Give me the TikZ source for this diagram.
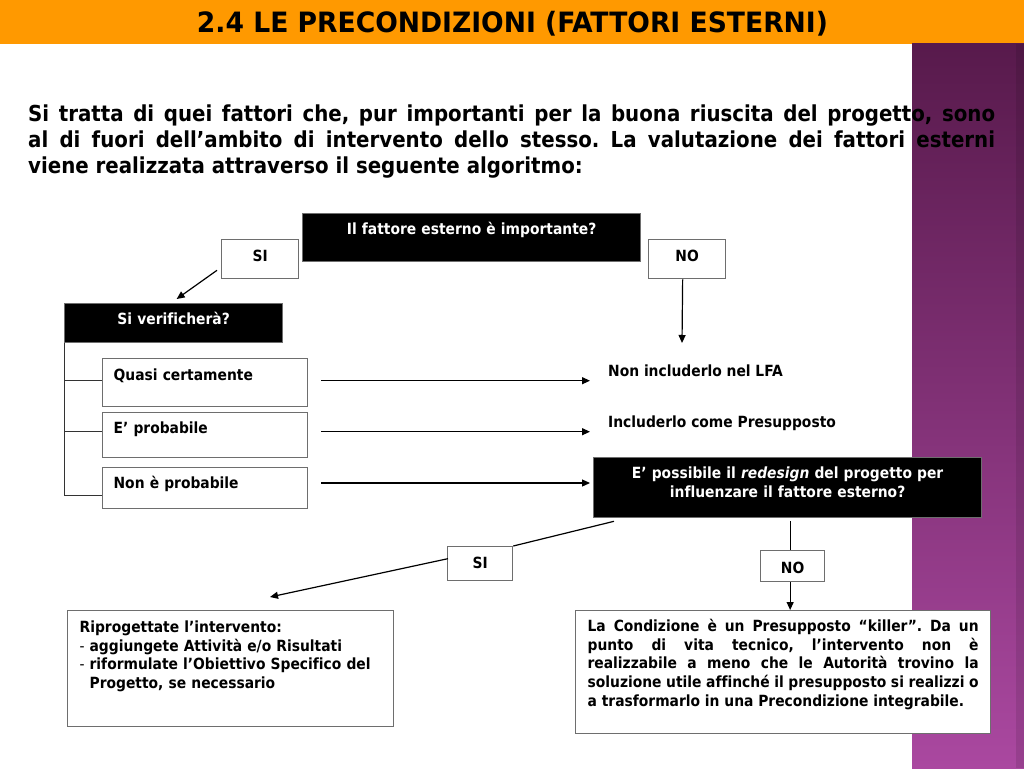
\documentclass[tikz,border=0pt]{standalone}
\usepackage{fontspec}
\usepackage{graphicx}
\IfFontExistsTF{DejaVu Sans Condensed}{\setmainfont{DejaVu Sans Condensed}[Ligatures=NoCommon]}{\setmainfont{DejaVu Sans}[FakeStretch=0.9,Ligatures=NoCommon]}
\usetikzlibrary{arrows.meta,calc}
\definecolor{hdr}{RGB}{255,153,0}
\definecolor{purpTop}{RGB}{88,26,76}
\definecolor{purpBot}{RGB}{170,72,160}
\definecolor{bord}{RGB}{110,110,110}
\newcommand\bodyfs{\fontsize{22}{26}\selectfont}
\newcommand\boxfs{\fontsize{15.4}{18.7}\selectfont}
\frenchspacing
\begin{document}
\begin{tikzpicture}[x=1pt,y=-1pt,
  every node/.style={font=\bfseries\boxfs, inner sep=0pt},
  fbox/.style={draw=bord, line width=1.3pt, anchor=north west, fill=white},
  bbox/.style={fbox, fill=black, text=white},
  conn/.style={line width=1.2pt, draw=black},
  arr/.style={conn, -{Triangle[length=8pt,width=7pt]}},
]
\useasboundingbox (0,0) rectangle (1024,768);
\fill[white] (0,0) rectangle (1024,768);
\fill[hdr] (0,0) rectangle (1024,44);
\shade[top color=purpTop, bottom color=purpBot] (912,44) rectangle (1024,768);
\fill[black, opacity=0.1] (1016,44) rectangle (1024,768);

\node[anchor=base, font=\bfseries\fontsize{28}{30}\selectfont] (title) at (512.5,33)
  {\resizebox{631pt}{\height}{2.4 LE PRECONDIZIONI (FATTORI ESTERNI)}};

\node[anchor=base west, text width=967pt, align=justify, font=\bfseries\bodyfs] (intro) at (28,121)
  {Si tratta di quei fattori che, pur importanti per la buona riuscita del progetto, sono\linebreak
   al di fuori dell’ambito di intervento dello stesso. La valutazione dei fattori esterni\linebreak
   viene realizzata attraverso il seguente algoritmo:};

\node[bbox, text width=338pt, align=center, text height=20.5pt, text depth=27.5pt] (imp) at (302,213) {Il fattore esterno è importante?};
\node[fbox, text width=77pt, align=center, text height=21.5pt, text depth=17.5pt] (si1) at (221,239) {SI};
\node[fbox, text width=77pt, align=center, text height=21.5pt, text depth=17.5pt] (no1) at (648,239) {NO};
\node[bbox, text width=218pt, align=center, text height=20.5pt, text depth=18.5pt] (verif) at (64,303) {Si verificherà?};
\node[fbox, text width=183pt, inner xsep=11pt, align=left, text height=22pt, text depth=26pt] (q1) at (102,358) {Quasi certamente};
\node[fbox, text width=183pt, inner xsep=11pt, align=left, text height=21pt, text depth=24pt] (q2) at (102,412) {E’ probabile};
\node[fbox, text width=183pt, inner xsep=11pt, align=left, text height=21pt, text depth=20pt] (q3) at (102,467) {Non è probabile};

\node[anchor=base west] (r1) at (608,376) {Non includerlo nel LFA};
\node[anchor=base west] (r2) at (608,427) {Includerlo come Presupposto};
\node[bbox, text width=388pt, align=center, text height=21pt, text depth=39pt] (redes) at (593,457)
  {E’ possibile il \textit{redesign} del progetto per\\influenzare il fattore esterno?};
\node[fbox, text width=65pt, align=center, text height=22pt, text depth=12pt] (si2) at (447,546) {SI};
\node[fbox, text width=64pt, align=center, text height=22.5pt, text depth=8.5pt] (no2) at (760,550) {NO};
\node[fbox, text width=302pt, inner xsep=12pt, align=left, text height=21.7pt, text depth=94.3pt] (ripro) at (67,610)
  {Riprogettate l’intervento:\\
   \makebox[10pt][l]{\mdseries -}aggiungete Attività e/o Risultati\\
   \makebox[10pt][l]{\mdseries -}riformulate l’Obiettivo Specifico del\\
   \hspace*{10pt}Progetto, se necessario};
\node[fbox, text width=391pt, inner xsep=12pt, align=justify, text height=20.7pt, text depth=102.3pt] (killer) at (575,610)
  {La Condizione è un Presupposto “killer”. Da un\linebreak
   punto di vita tecnico, l’intervento non è\linebreak
   realizzabile a meno che le Autorità trovino la\linebreak
   soluzione utile affinché il presupposto si realizzi o\linebreak
   a trasformarlo in una Precondizione integrabile.};

% connectors
\draw[arr] ($(si1.south west)+(-4,-9)$) -- ($(verif.north)+(3,-4)$);
\coordinate (noend) at (682,343);
\draw[arr] ($(no1.south)+(-4.5,0)$) -- (noend);

\coordinate (b1) at ($(q1.north west)+(0,22)$);
\coordinate (b2) at ($(q2.north west)+(0,19)$);
\coordinate (b3) at ($(q3.north west)+(0,28)$);
\draw[line width=1pt, draw=black!80] (verif.south west) |- (b3);
\draw[line width=1pt, draw=black!80] (verif.south west |- b1) -- (b1);
\draw[line width=1pt, draw=black!80] (verif.south west |- b2) -- (b2);

\coordinate (e1) at (590,380.7);
\coordinate (e2) at (590,431.7);
\coordinate (e3) at ($(redes.north west)+(-3,26)$);
\draw[arr] ($(q1.east |- e1)+(13,0)$) -- (e1);
\draw[arr] ($(q2.east |- e2)+(13,0)$) -- (e2);
\draw[arr] ($(q3.east |- e3)+(13,0)$) -- (e3);

\draw[conn] ($(redes.south west)+(21,3)$) -- (si2.north east);
\coordinate (siend) at (270,597);
\draw[arr] ($(si2.west)+(1,-5)$) -- (siend);

\draw[conn] ($(no2.north)+(-2.5,-29)$) -- ($(no2.north)+(-2.5,0)$);
\coordinate (n2s) at ($(no2.south)+(-2.5,0)$);
\draw[arr] (n2s) -- (n2s |- killer.north);
\end{tikzpicture}
\end{document}
